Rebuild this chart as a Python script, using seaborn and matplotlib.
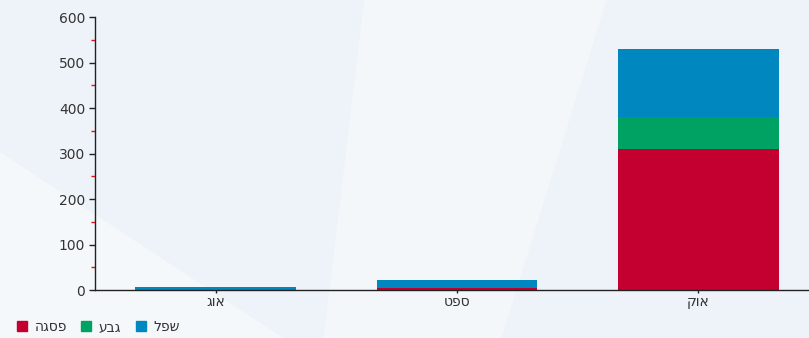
import numpy as np
import pandas as pd
import matplotlib
matplotlib.use("Agg")
import matplotlib.pyplot as plt
from matplotlib.lines import Line2D
from matplotlib.ticker import MultipleLocator
import seaborn as sns

# ---- data ----
months = ["אוג", "ספט", "אוק"]
series_names = ["פסגה", "גבע", "שפל"]
peak = [0, 4, 310]
shoulder = [0, 0, 70]
offpeak = [6, 17, 150]
colors = ["#c40031", "#00a264", "#0087bf"]
y_ticks = [0, 100, 200, 300, 400, 500, 600]


def vis(s):
    # matplotlib has no bidi support: reverse Hebrew for visual order
    return s[::-1]


sns.set_theme(style="white")
plt.rcParams["font.family"] = ["DejaVu Sans"]

fig = plt.figure(figsize=(8.09, 3.38), dpi=100)
fig.patch.set_facecolor("#edf3f8")

# subtle background shading
bg = fig.add_axes([0, 0, 1, 1], zorder=-10)
bg.axis("off")
bg.set_xlim(0, 1)
bg.set_ylim(0, 1)
bg.fill([0, 0.35, 0.0], [0.55, 0.0, 0.0], color="#f4f8fb", lw=0)
bg.fill([0.45, 0.75, 0.62, 0.40], [1, 1, 0, 0], color="#f3f7fa", lw=0)

ax = fig.add_axes([0.1174, 0.142, 0.895, 0.8077])
ax.set_facecolor("none")

df = pd.DataFrame({
    "month": [vis(m) for m in months],
    "peak": peak,
    "shoulder": shoulder,
    "offpeak": offpeak,
})
df["total"] = df["peak"] + df["shoulder"] + df["offpeak"]
df["ps"] = df["peak"] + df["shoulder"]

w = 0.665
sns.barplot(data=df, x="month", y="total", color=colors[2], width=w,
            saturation=1, ax=ax, edgecolor="none")
sns.barplot(data=df, x="month", y="ps", color=colors[1], width=w,
            saturation=1, ax=ax, edgecolor="none")
sns.barplot(data=df, x="month", y="peak", color=colors[0], width=w,
            saturation=1, ax=ax, edgecolor="none")

ax.set_xlim(-0.5, 2.5)
ax.set_ylim(0, 600)
ax.set_yticks(y_ticks)
ax.yaxis.set_minor_locator(MultipleLocator(50))
ax.set_xlabel("")
ax.set_ylabel("")

for s in ["top", "right"]:
    ax.spines[s].set_visible(False)
for s in ["left", "bottom"]:
    ax.spines[s].set_color("#222222")
    ax.spines[s].set_linewidth(1.0)

ax.tick_params(axis="y", which="major", direction="out", length=4, width=1,
               color="#222222", labelsize=10, labelcolor="#333333", pad=3, left=True)
ax.tick_params(axis="y", which="minor", direction="out", length=3, width=1,
               color="#e8101a", left=True)
ax.tick_params(axis="x", which="major", direction="inout", length=5, width=1,
               color="#222222", labelsize=10, labelcolor="#333333", pad=1, bottom=True)

handles = [Line2D([0], [0], marker="s", linestyle="none", markersize=7,
                  markerfacecolor=c, markeredgecolor=c) for c in colors]
fig.legend(handles, [vis(n) for n in series_names], loc="lower left",
           bbox_to_anchor=(0.005, -0.025), ncol=3, frameon=False,
           fontsize=10, handlelength=0.8, handletextpad=0.5,
           columnspacing=1.0, labelcolor="#333333")

fig.savefig("out.png", dpi=100, facecolor=fig.get_facecolor())
